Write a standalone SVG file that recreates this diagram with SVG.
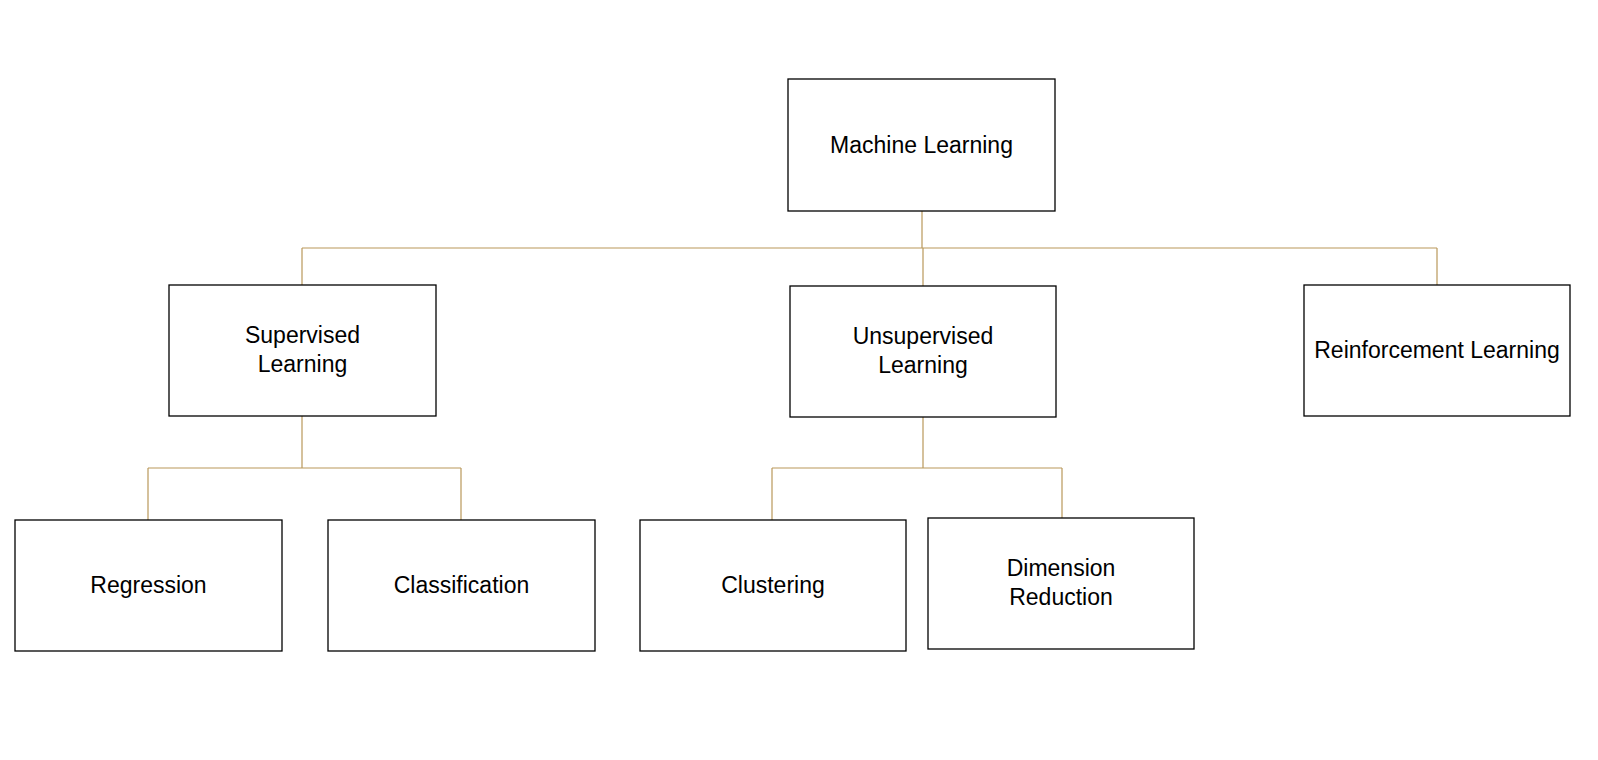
<svg xmlns="http://www.w3.org/2000/svg" width="1598" height="760" viewBox="0 0 1598 760">
  <style>
    .box { fill: #ffffff; stroke: #000000; stroke-width: 1.3; }
    .lbl { font-family: "Liberation Sans", Arial, sans-serif; font-size: 23px; fill: #000000; text-anchor: middle; }
    .conn { fill: none; stroke: #B9985A; stroke-width: 1.2; }
  </style>
  <rect width="1598" height="760" fill="#ffffff"/>
  <g id="connectors">
    <path class="conn" d="M922 211 V248"/>
    <path class="conn" d="M302 248 H1437"/>
    <path class="conn" d="M302 248 V285"/>
    <path class="conn" d="M923 248 V286"/>
    <path class="conn" d="M1437 248 V285"/>
    <path class="conn" d="M302 416 V468"/>
    <path class="conn" d="M148 468 H461"/>
    <path class="conn" d="M148 468 V520"/>
    <path class="conn" d="M461 468 V520"/>
    <path class="conn" d="M923 417 V468"/>
    <path class="conn" d="M772 468 H1062"/>
    <path class="conn" d="M772 468 V520"/>
    <path class="conn" d="M1062 468 V518"/>
  </g>
  <g id="node-ml">
    <rect class="box" x="788" y="79" width="267" height="132"/>
    <text class="lbl" x="921.5" y="153">Machine Learning</text>
  </g>
  <g id="node-supervised">
    <rect class="box" x="169" y="285" width="267" height="131"/>
    <text class="lbl" x="302.5" y="343">Supervised</text>
    <text class="lbl" x="302.5" y="372">Learning</text>
  </g>
  <g id="node-unsupervised">
    <rect class="box" x="790" y="286" width="266" height="131"/>
    <text class="lbl" x="923" y="344">Unsupervised</text>
    <text class="lbl" x="923" y="373">Learning</text>
  </g>
  <g id="node-reinforcement">
    <rect class="box" x="1304" y="285" width="266" height="131"/>
    <text class="lbl" x="1437" y="358">Reinforcement Learning</text>
  </g>
  <g id="node-regression">
    <rect class="box" x="15" y="520" width="267" height="131"/>
    <text class="lbl" x="148.5" y="593">Regression</text>
  </g>
  <g id="node-classification">
    <rect class="box" x="328" y="520" width="267" height="131"/>
    <text class="lbl" x="461.5" y="593">Classification</text>
  </g>
  <g id="node-clustering">
    <rect class="box" x="640" y="520" width="266" height="131"/>
    <text class="lbl" x="773" y="593">Clustering</text>
  </g>
  <g id="node-dimension">
    <rect class="box" x="928" y="518" width="266" height="131"/>
    <text class="lbl" x="1061" y="576">Dimension</text>
    <text class="lbl" x="1061" y="605">Reduction</text>
  </g>
</svg>
